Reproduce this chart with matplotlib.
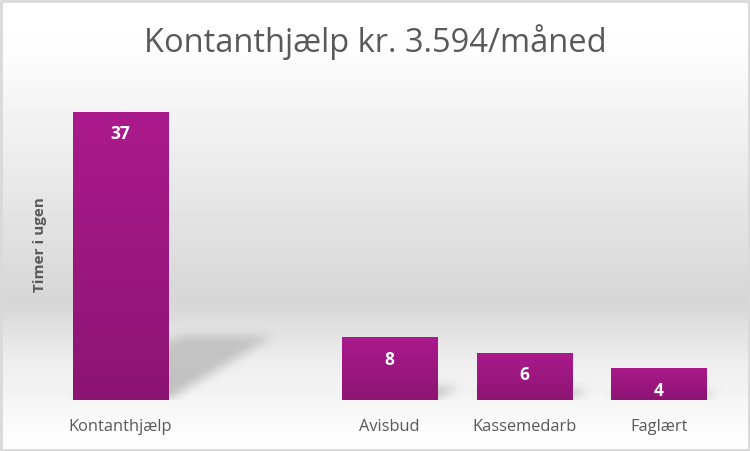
import numpy as np
import matplotlib
matplotlib.use("Agg")
import matplotlib.pyplot as plt
from matplotlib.patches import Rectangle

categories = ["Kontanthjælp", "", "Avisbud", "Kassemedarb", "Faglært"]
hours = [37, None, 8, 6, 4]
title = "Kontanthjælp kr. 3.594/måned"
ylabel = "Timer i ugen"

W, H = 750, 451
fig = plt.figure(figsize=(W / 100, H / 100), dpi=100)
fig.patch.set_facecolor("white")

# background: white -> gray band -> white
bg = fig.add_axes([0, 0, 1, 1], zorder=0)
yy = np.linspace(0, 1, 451)  # 0 top
stops_y = [0.0, 0.10, 0.67, 0.80, 0.95, 1.0]
stops_v = [1.0, 0.995, 0.84, 0.93, 0.985, 1.0]
col = np.interp(yy, stops_y, stops_v)
img = np.repeat(col[:, None], 10, axis=1)
bg.imshow(img, cmap="gray", vmin=0, vmax=1, aspect="auto", extent=[0, 1, 0, 1], origin="upper")
bg.add_patch(Rectangle((0.001, 0.002), 0.997, 0.995, fill=False, ec="#d9d9d9", lw=2,
                       transform=bg.transAxes))
bg.set_xlim(0, 1); bg.set_ylim(0, 1)
bg.axis("off")

ax = fig.add_axes([53 / W, 51 / H, 673 / W, 311 / H], zorder=1)
ax.set_facecolor("none")
xmin, xmax, ymax = -0.5, len(categories) - 0.5, 40
ax.set_xlim(xmin, xmax)
ax.set_ylim(0, ymax)

bw = 0.706
top_c = np.array([0.67, 0.10, 0.55])
bot_c = np.array([0.55, 0.08, 0.45])
grad = np.linspace(0, 1, 100)[:, None]
cmap = matplotlib.colors.LinearSegmentedColormap.from_list("bar", [bot_c, top_c])


def box_blur(a, r, axis):
    k = np.ones(2 * r + 1) / (2 * r + 1)
    return np.apply_along_axis(lambda m: np.convolve(m, k, mode="same"), axis, a)


# soft perspective shadows, rasterised over the plot area (1 cell ~ 1 px)
nx, ny = 673, 311
gx = np.linspace(xmin, xmax, nx)
gy = np.linspace(0, ymax, ny)
GX, GY = np.meshgrid(gx, gy)
mask = np.zeros((ny, nx))
for i, v in enumerate(hours):
    if v is None:
        continue
    x0, x1 = i - bw / 2, i + bw / 2
    sh_h = v * 0.22
    sh_dx = v * 0.021
    t = np.clip(GY / sh_h, 0, None)
    inside = (GY <= sh_h) & (GX >= x0 + t * sh_dx) & (GX <= x1 + t * sh_dx)
    fade = 1 - 0.3 * t
    mask = np.maximum(mask, np.where(inside, fade, 0))
for _ in range(2):
    mask = box_blur(mask, 5, 0)
    mask = box_blur(mask, 6, 1)
shadow = np.zeros((ny, nx, 4))
shadow[..., :3] = 0.45
shadow[..., 3] = np.clip(mask, 0, 1) * 0.42
ax.imshow(shadow, extent=[xmin, xmax, 0, ymax], origin="lower", aspect="auto",
          interpolation="bilinear", zorder=1)

for i, v in enumerate(hours):
    if v is None:
        continue
    x0, x1 = i - bw / 2, i + bw / 2
    ax.imshow(grad, cmap=cmap, extent=[x0, x1, 0, v], origin="lower",
              aspect="auto", zorder=2)
    ax.text(i, v - 2.8, str(v), ha="center", va="center", color="white",
            fontsize=12.5, fontweight="bold", family="Open Sans", zorder=3)

ax.set_xlim(xmin, xmax)
ax.set_ylim(0, ymax)
ax.set_xticks(range(len(categories)))
ax.set_xticklabels(categories, fontsize=11.8, color="#595959", family="Open Sans")
ax.tick_params(axis="x", length=0, pad=14)
ax.set_yticks([])
for sp in ax.spines.values():
    sp.set_visible(False)
ax.set_ylabel(ylabel, fontsize=11, color="#595959", fontweight="bold",
              family="Open Sans", labelpad=4)

fig.text(375 / W, 1 - 42 / H, title, ha="center", va="center", fontsize=23.5,
         color="#595959", family="Open Sans")

fig.savefig("out.png", dpi=100)
